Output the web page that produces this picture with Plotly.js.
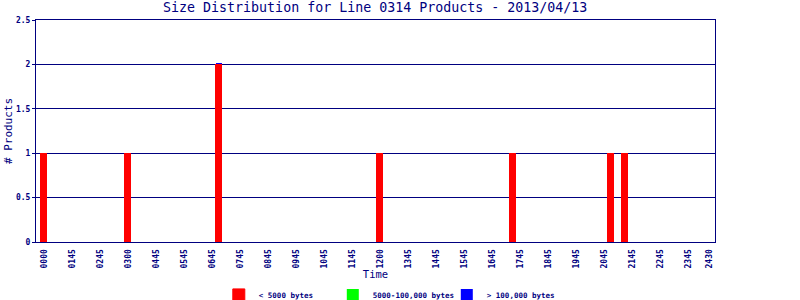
<!DOCTYPE html>
<html>
<head>
<meta charset="utf-8">
<script src="https://cdn.plot.ly/plotly-3.0.1.min.js"></script>
<style>html,body{margin:0;padding:0;background:#fff;}#chart{width:800px;height:300px;}</style>
</head>
<body>
<div id="chart"></div>
<script>
// quarter-hour slot index of each bar
const slots = [0, 12, 25, 48, 67, 81, 83];
const smallCounts = [1, 1, 2, 1, 1, 1, 1];      // < 5000 bytes
const mediumCounts = [0, 0, 0, 0, 0, 0, 0];     // 5000-100,000 bytes
const largeCounts = [0, 0, 0.012, 0, 0, 0, 0];  // > 100,000 bytes
const tickSlots = [0,4,8,12,16,20,24,28,32,36,40,44,48,52,56,60,64,68,72,76,80,84,88,92,95];
const tickLabels = ["0000","0145","0245","0300","0445","0545","0645","0745","0845","0945","1045","1145","1200","1345","1445","1545","1645","1745","1845","1945","2045","2145","2245","2345","2430"];
const seriesNames = ["< 5000 bytes", "5000-100,000 bytes", "> 100,000 bytes"];
const seriesColors = ["#ff0000", "#00ff00", "#0000ff"];
const yTicks = [0, 0.5, 1, 1.5, 2, 2.5];
const yTickLabels = ["0", "0.5", "1", "1.5", "2", "2.5"];

const navy = "#000080";
const mono = "DejaVu Sans Mono, monospace";
const vals = [smallCounts, mediumCounts, largeCounts];

const traces = vals.map((v, i) => ({
  type: "bar",
  x: slots,
  y: v,
  width: 0.86,
  name: seriesNames[i],
  marker: {color: seriesColors[i], line: {width: 1, color: i === 0 ? seriesColors[i] : "rgba(0,0,0,0)"}},
  hoverinfo: "x+y"
}));

const layout = {
  width: 800, height: 300,
  margin: {l: 36, r: 85, t: 20, b: 58},
  paper_bgcolor: "#fff", plot_bgcolor: "#fff",
  barmode: "stack",
  title: {text: "Size Distribution for Line 0314 Products - 2013/04/13",
          font: {family: mono, size: 13.3, color: navy},
          x: 0.469, xanchor: "center", y: 0.975, yanchor: "middle"},
  xaxis: {
    range: [-1.14, 95.86], fixedrange: true, automargin: false,
    tickmode: "array", tickvals: tickSlots, ticktext: tickLabels,
    tickangle: -90, ticks: "", ticklabelstandoff: 3,
    tickfont: {family: mono, size: 8, color: navy, weight: "bold"},
    showgrid: false, zeroline: false,
    showline: true, linecolor: navy, linewidth: 1, mirror: true,
    title: {text: "Time", font: {family: mono, size: 10.5, color: navy}, standoff: 30}
  },
  yaxis: {
    range: [0, 2.5], fixedrange: true, automargin: false,
    tickmode: "array", tickvals: yTicks, ticktext: yTickLabels,
    ticks: "outside", ticklen: 3, tickcolor: navy,
    tickfont: {family: mono, size: 8, color: navy, weight: "bold"},
    showgrid: true, gridcolor: navy, gridwidth: 1, zeroline: false,
    showline: true, linecolor: navy, linewidth: 1, mirror: true,
    title: {text: "# Products", font: {family: mono, size: 11, color: navy}, standoff: 1}
  },
  showlegend: true,
  legend: {orientation: "h", xref: "container", yref: "container",
           x: 0.2735, xanchor: "left", y: 0.017, yanchor: "middle",
           entrywidth: 69, entrywidthmode: "pixels", traceorder: "normal",
           font: {family: mono, size: 7.5, color: navy, weight: "bold"},
           itemwidth: 30, bgcolor: "rgba(0,0,0,0)"}
};

Plotly.newPlot("chart", traces, layout, {staticPlot: true, displayModeBar: false});
</script>
</body>
</html>
